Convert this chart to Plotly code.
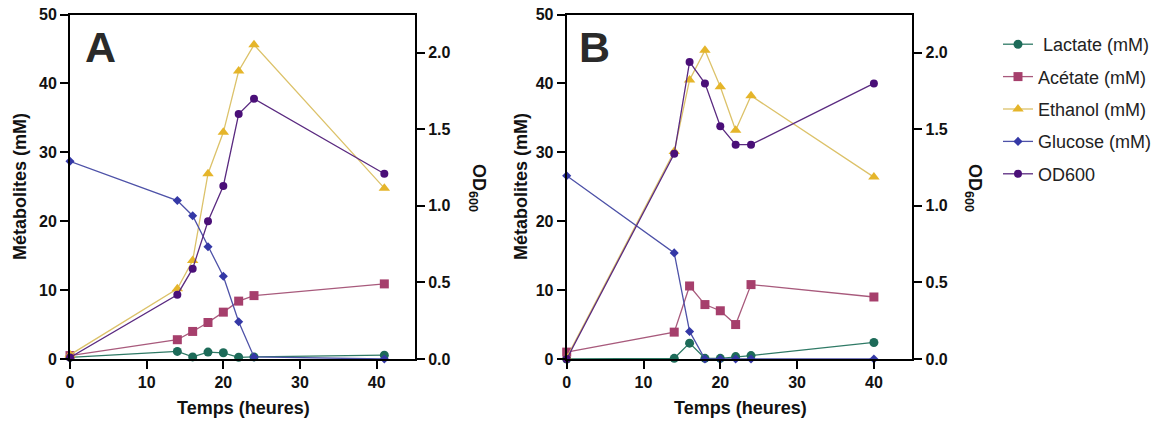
import plotly.graph_objects as go

W, H = 1161, 421

# ---------------- data ----------------
time_a = [0, 14, 16, 18, 20, 22, 24, 41]
lactate_a = [0.25, 1.1, 0.3, 1.0, 0.9, 0.25, 0.3, 0.55]
acetate_a = [0.5, 2.8, 4.0, 5.3, 6.8, 8.4, 9.2, 10.9]
ethanol_a = [0.6, 10.2, 14.3, 26.9, 32.9, 41.8, 45.6, 24.8]
glucose_a = [28.7, 23.0, 20.8, 16.3, 12.0, 5.4, 0.3, 0.0]
od600_a = [0.01, 0.42, 0.59, 0.90, 1.13, 1.60, 1.70, 1.21]

time_b = [0, 14, 16, 18, 20, 22, 24, 40]
lactate_b = [0.0, 0.1, 2.3, 0.1, 0.1, 0.35, 0.5, 2.4]
acetate_b = [1.0, 3.9, 10.6, 7.9, 7.0, 5.0, 10.8, 9.0]
ethanol_b = [0.2, 30.1, 40.5, 44.8, 39.5, 33.2, 38.2, 26.4]
glucose_b = [26.6, 15.4, 4.0, 0.0, 0.0, 0.0, 0.0, 0.0]
od600_b = [0.0, 1.34, 1.94, 1.80, 1.52, 1.40, 1.40, 1.80]

series_names = [" Lactate (mM)", "Acétate (mM)", "Ethanol (mM)", "Glucose (mM)", "OD600"]
panel_labels = ["A", "B"]
left_ticks = [0, 10, 20, 30, 40, 50]
right_ticks = [0, 0.5, 1.0, 1.5, 2.0]
x_ticks = [0, 10, 20, 30, 40]

# ---------------- style ----------------
styles = [
    dict(color="#1d6b59", line="#2f7a66", symbol="circle", size=9),
    dict(color="#a63f6c", line="#a85a7c", symbol="square", size=9),
    dict(color="#e5b52a", line="#dcc26a", symbol="triangle-up", size=10),
    dict(color="#3438a6", line="#4e52a8", symbol="diamond", size=7),
    dict(color="#4a0f78", line="#5a2a80", symbol="circle", size=8),
]
FONT = "Liberation Sans, Arial, sans-serif"
INK = "#111111"

fig = go.Figure()

def px_x(p):
    return p / W

def px_y(p):
    return 1 - p / H

dom_y = [px_y(359), px_y(14.5)]
dom_a = [px_x(70), px_x(415)]
dom_b = [px_x(566.7), px_x(912.3)]

panels = [
    (time_a, [lactate_a, acetate_a, ethanol_a, glucose_a, od600_a], "x", "y", "y2", True),
    (time_b, [lactate_b, acetate_b, ethanol_b, glucose_b, od600_b], "x2", "y3", "y4", False),
]

for t, vals, xa, yl, yr, show in panels:
    for i, (name, v) in enumerate(zip(series_names, vals)):
        s = styles[i]
        fig.add_trace(go.Scatter(
            x=t, y=v, name=name, mode="lines+markers",
            xaxis=xa, yaxis=(yr if i == 4 else yl),
            line=dict(color=s["line"], width=1.3),
            marker=dict(color=s["color"], symbol=s["symbol"], size=s["size"],
                        line=dict(width=0)),
            showlegend=show, legendgroup=name, cliponaxis=False,
        ))

axis_common = dict(
    showgrid=False, zeroline=False, showline=True, linecolor="black", linewidth=2,
    ticks="outside", ticklen=8, tickwidth=2, tickcolor="black", automargin=False,
    ticklabeloverflow="allow",
    tickfont=dict(family=FONT, size=16, color=INK, weight="bold"),
)

fig.update_layout(
    width=W, height=H,
    margin=dict(l=0, r=0, t=0, b=0, pad=0, autoexpand=False),
    paper_bgcolor="white", plot_bgcolor="white",
    xaxis=dict(domain=dom_a, range=[0, 45], tickvals=x_ticks, anchor="y", mirror=True, **axis_common),
    yaxis=dict(domain=dom_y, range=[0, 50], tickvals=left_ticks, anchor="x", **axis_common),
    yaxis2=dict(range=[0, 2.25], tickvals=right_ticks, tickformat=".1f", overlaying="y",
                side="right", anchor="x", **axis_common),
    xaxis2=dict(domain=dom_b, range=[0, 45], tickvals=x_ticks, anchor="y3", mirror=True, **axis_common),
    yaxis3=dict(domain=dom_y, range=[0, 50], tickvals=left_ticks, anchor="x2", **axis_common),
    yaxis4=dict(range=[0, 2.25], tickvals=right_ticks, tickformat=".1f", overlaying="y3",
                side="right", anchor="x2", **axis_common),
    legend=dict(x=px_x(998), y=px_y(26), xanchor="left", yanchor="top",
                font=dict(family=FONT, size=18, color="#222222"),
                itemwidth=30, tracegroupgap=6, bgcolor="rgba(0,0,0,0)"),
)

title_font = dict(family=FONT, size=18, color=INK, weight="bold")
ann = []

def add_text(text, x, y, font, angle=0):
    ann.append(dict(text=text, x=px_x(x), y=px_y(y), xref="paper", yref="paper",
                    xanchor="center", yanchor="middle", showarrow=False,
                    textangle=angle, font=font))

label_pos = [(100, 20, 477, 243), (594, 521, 973, 740)]
for lab, (cx, ylx, odx, tx) in zip(panel_labels, label_pos):
    add_text(lab, cx, 47, dict(family=FONT, size=43, color="#2a2a2a", weight="bold"))
    add_text("Métabolites (mM)", ylx, 187, title_font, -90)
    add_text("OD<sub>600</sub>", odx, 188, title_font, 90)
    add_text("Temps (heures)", tx, 408, title_font)
fig.update_layout(annotations=ann)

fig.write_html(
    "out.html",
    config={"displayModeBar": False},
    post_script="document.body.style.margin='0';document.body.style.overflow='hidden';",
)
